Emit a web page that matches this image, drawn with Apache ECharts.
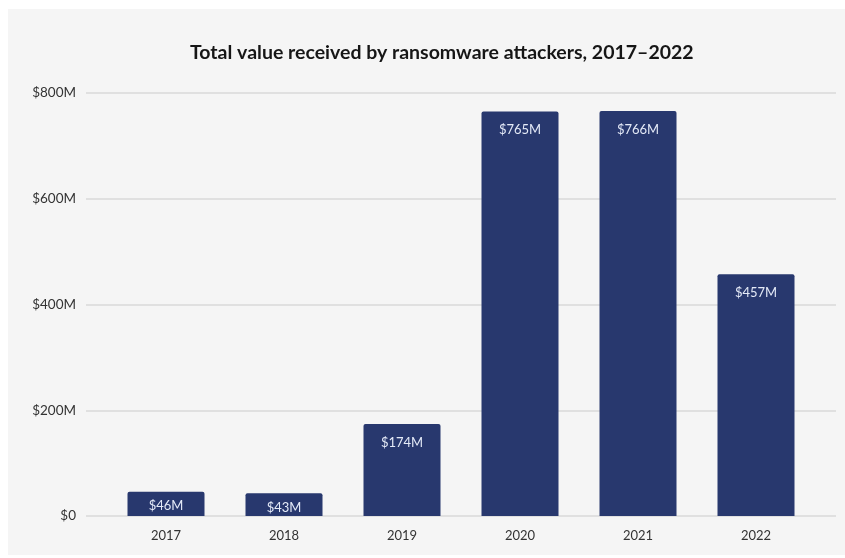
<!DOCTYPE html>
<html>
<head>
<meta charset="utf-8">
<script src="https://cdn.jsdelivr.net/npm/echarts@6/dist/echarts.min.js"></script>
<style>
  html, body { margin: 0; padding: 0; background: #ffffff; }
  #chart { width: 845px; height: 558px; }
</style>
</head>
<body>
<div id="chart"></div>
<script>
// Ransomware revenue by year, in millions of US dollars
const years = ['2017', '2018', '2019', '2020', '2021', '2022'];
const valuesM = [46, 43, 174, 765, 766, 457];
const yTicks = [0, 200, 400, 600, 800];

const fontFamily = 'Lato, "Noto Sans", sans-serif';
const chart = echarts.init(document.getElementById('chart'), null, { renderer: 'canvas' });

const yMin = yTicks[0];
const yMax = yTicks[yTicks.length - 1];
const yStep = yTicks[1] - yTicks[0];

// short bars keep their label a little closer to the top edge
const barData = valuesM.map(v => (v < 100 ? { value: v, label: { distance: 8 } } : v));

chart.setOption({
  backgroundColor: '#ffffff',
  animation: false,
  graphic: [{
    type: 'rect',
    z: -10,
    shape: { x: 8, y: 9, width: 837, height: 546 },
    style: { fill: '#f5f5f5' }
  }],
  title: {
    text: 'Total value received by ransomware attackers, 2017\u20132022',
    left: 185,
    top: 38,
    textStyle: { fontFamily, fontSize: 19.5, fontWeight: 'bold', color: '#161616' }
  },
  grid: [
    // bars
    { left: 107, right: 30, top: 93, bottom: 42 },
    // wider grid carrying the gridlines and value labels
    { left: 86, right: 9, top: 93, bottom: 42 }
  ],
  xAxis: [
    {
      type: 'category', gridIndex: 0, data: years,
      axisLine: { show: false }, axisTick: { show: false },
      axisLabel: { margin: 13, fontFamily, fontSize: 13, color: '#333333' }
    },
    { type: 'value', gridIndex: 1, show: false, min: 0, max: 1 }
  ],
  yAxis: [
    {
      type: 'value', gridIndex: 0, min: yMin, max: yMax, interval: yStep,
      axisLabel: { show: false }, splitLine: { show: false },
      axisLine: { show: false }, axisTick: { show: false }
    },
    {
      type: 'value', gridIndex: 1, min: yMin, max: yMax, interval: yStep,
      axisLine: { show: false }, axisTick: { show: false },
      splitLine: { lineStyle: { color: '#e0e0e0', width: 2 } },
      axisLabel: {
        margin: 10, fontFamily, fontSize: 13.5, color: '#333333',
        formatter: v => v === 0 ? '$0' : '$' + v + 'M'
      }
    }
  ],
  series: [{
    type: 'bar',
    xAxisIndex: 0, yAxisIndex: 0,
    data: barData,
    barWidth: 77,
    itemStyle: { color: '#28386e', borderRadius: [2, 2, 0, 0] },
    label: {
      show: true,
      position: 'insideTop',
      distance: 12,
      fontFamily, fontSize: 13,
      color: '#e4eaf7',
      formatter: p => '$' + p.value + 'M'
    }
  }]
});
</script>
</body>
</html>
